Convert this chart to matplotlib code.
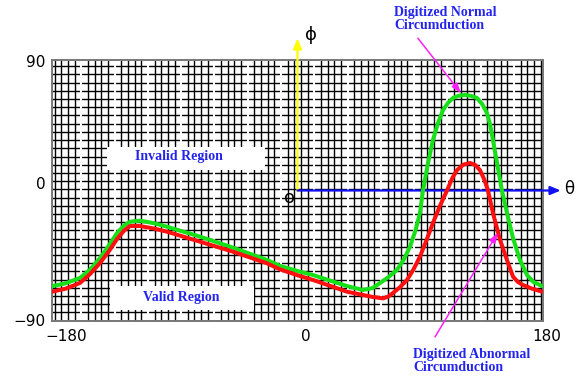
import matplotlib
matplotlib.use("Agg")
import matplotlib.pyplot as plt
import matplotlib.patches as patches
import numpy as np

normal_theta = [-180, -170, -159.5, -152, -144.8, -138, -132.3, -127, -122.8, -115.5,
                -105, -95.7, -71.5, -47.3, -22.4, -12.8, 1.8, 11.4, 36.3, 48, 55,
                60.5, 67, 72.9, 78, 82.5, 86.5, 89.8, 92, 95.5, 99.3, 103, 106.7,
                110.5, 114, 118, 122.8, 127, 131.6, 135.5, 138.9, 141.2, 143.3,
                146.6, 149.9, 153.6, 158, 163.1, 168.3, 172.7, 179.3]
normal_phi = [-66, -64, -60.3, -54.5, -46.6, -37.5, -29.3, -24, -21.5, -20.8,
              -22.6, -25, -31.8, -39.4, -47.9, -52, -56, -58.3, -65.9, -68.6, -67.3,
              -63.8, -59.5, -54.8, -47.5, -38.7, -27.5, -15.5, 0, 18, 34.8, 46.5, 55.5,
              60.6, 63.8, 65.3, 65.9, 65.3, 63.8, 59.5, 53.4, 45.5, 34.8,
              17.5, 0, -15.5, -32.8, -47.9, -58.3, -62.9, -65.9]

abnormal_theta = [-180, -170, -159.5, -152, -144.8, -138, -132.3, -127, -122.8, -115.5,
                  -105, -95.7, -71.5, -47.3, -22.4, -12.8, 1.8, 11.4, 36.3, 55, 62.7,
                  66.5, 70, 75, 80.3, 85, 89.8, 94.5, 99.3, 104.5, 109.6, 113.5, 116.9,
                  121.5, 126.5, 130.5, 133.8, 137, 139.7, 143.3, 148.5, 153.6, 158,
                  161.5, 165.3, 172, 179.3]
abnormal_phi = [-69.8, -67.7, -63.8, -57.5, -50, -41.5, -33.4, -27.5, -24.5, -24.5,
                -26.3, -28.4, -35.3, -42.2, -50.2, -54.4, -59, -61.7, -69.8, -73.4, -74.4,
                -73.2, -70.7, -66.8, -61.7, -54.5, -45.6, -34.5, -22.4, -10.5, 0, 8.5, 14,
                17.8, 19, 17.5, 14, 7.5, 0, -15.5, -34, -48, -59.4,
                -63, -65.2, -67.7, -69.8]

# tick labels and where their text sits
x_tick_text = ["\u2212180", "0", "180"]
x_tick_pos = [-169.5, 6.0, 183.0]
y_tick_text = ["90", "0", "\u221290"]
y_tick_pos = [88.0, 4.0, -90.5]

BLUE_TXT = "#2424f0"
GREEN = "#18e018"
RED = "#ff1010"
MAGENTA = "#ff20ff"

fig = plt.figure(figsize=(5.76, 3.77), dpi=100)
ax = fig.add_axes([52 / 576, 1 - 321 / 377, 491 / 576, 261 / 377])
ax.set_xlim(-180, 180)
ax.set_ylim(-90, 90)
ax.set_xticks([])
ax.set_yticks([])
for sp in ax.spines.values():
    sp.set_color("#777777")
    sp.set_linewidth(1.4)

# graph-paper background: black minor lines, white breaks every fifth column
rows = 85.7 - 5.66 * np.arange(32)
cols = -178 + 4.88 * np.arange(74)
ax.hlines(rows, -180, 180, colors="black", lw=1.0, zorder=1)
ax.vlines(cols[np.arange(74) % 5 != 4], -90, 90, colors="black", lw=1.0, zorder=1)
ax.vlines(cols[np.arange(74) % 5 == 4], -90, 90, colors="white", lw=1.5, zorder=1.5)

# region labels on white patches
ax.add_patch(patches.Rectangle((0.112, 0.5785), 0.322, 0.088, transform=ax.transAxes,
                               facecolor="white", edgecolor="none", zorder=2))
ax.add_patch(patches.Rectangle((0.118, 0.042), 0.293, 0.092, transform=ax.transAxes,
                               facecolor="white", edgecolor="none", zorder=2))
ax.text(-87, 23.5, "Invalid Region", color=BLUE_TXT, family="Liberation Serif",
        weight="bold", fontsize=10, ha="center", va="center", zorder=3)
ax.text(-85, -74, "Valid Region", color=BLUE_TXT, family="Liberation Serif",
        weight="bold", fontsize=10, ha="center", va="center", zorder=3)

# theta / phi reference axes
ax.annotate("", xy=(0, 105), xytext=(0, -0.5), annotation_clip=False, zorder=4,
            arrowprops=dict(arrowstyle="-|>,head_length=0.6,head_width=0.25",
                            color="#ffff00", lw=1.6, shrinkA=0, shrinkB=0))
ax.annotate("", xy=(193, 0), xytext=(0, 0), annotation_clip=False, zorder=4,
            arrowprops=dict(arrowstyle="-|>,head_length=0.6,head_width=0.25",
                            color="#1010f0", lw=1.6, shrinkA=0, shrinkB=0))
ax.text(10, 107, "\u03d5", fontsize=13, ha="center", va="center", clip_on=False)
ax.text(195.5, 1, "\u03b8", fontsize=12, ha="left", va="center", clip_on=False)
ax.text(-6, -5, "o", fontsize=13, ha="center", va="center", zorder=4)

ax.plot(normal_theta, normal_phi, color=GREEN, lw=2.9, solid_joinstyle="round",
        solid_capstyle="round", zorder=5)
ax.plot(abnormal_theta, abnormal_phi, color=RED, lw=2.9, solid_joinstyle="round",
        solid_capstyle="round", zorder=5)

# callouts
ax.annotate("", xy=(120, 67), xytext=(88.3, 105), annotation_clip=False, zorder=6,
            arrowprops=dict(arrowstyle="-|>,head_length=0.6,head_width=0.2",
                            color=MAGENTA, lw=1.1, shrinkA=0, shrinkB=0))
ax.annotate("", xy=(147, -29), xytext=(100.8, -101), annotation_clip=False, zorder=6,
            arrowprops=dict(arrowstyle="-|>,head_length=0.6,head_width=0.2",
                            color=MAGENTA, lw=1.1, shrinkA=0, shrinkB=0))
ax.text(70.7, 127.5, "Digitized Normal\nCircumduction", color=BLUE_TXT,
        family="Liberation Serif", weight="bold", fontsize=10, ha="left", va="top",
        linespacing=1.0, clip_on=False)
ax.text(84.7, -108.5, "Digitized Abnormal\nCircumduction", color=BLUE_TXT,
        family="Liberation Serif", weight="bold", fontsize=10, ha="left", va="top",
        linespacing=1.0, clip_on=False)

for lbl, pos in zip(x_tick_text, x_tick_pos):
    ax.text(pos, -101, lbl, fontsize=11, ha="center", va="center", clip_on=False)
for lbl, pos in zip(y_tick_text, y_tick_pos):
    ax.text(-185, pos, lbl, fontsize=11, ha="right", va="center", clip_on=False)

fig.savefig("out.png", dpi=100)
